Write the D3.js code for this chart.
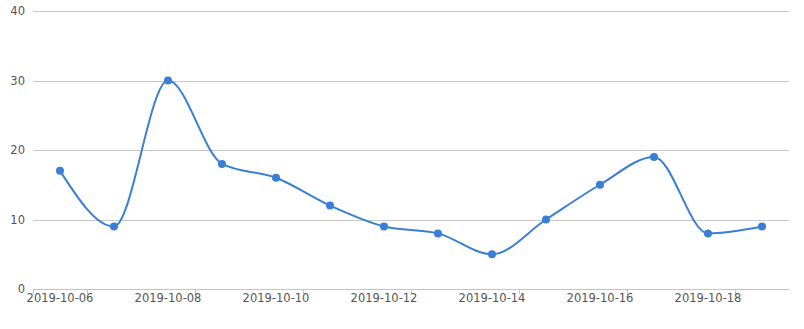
<!DOCTYPE html>
<html>
<head>
<meta charset="utf-8">
<script src="https://cdn.jsdelivr.net/npm/d3@7"></script>
<style>
  body { margin: 0; background: #fff; }
  svg { display: block; }
</style>
</head>
<body>
<div id="chart"></div>
<script>
// chart data
const dates = ["2019-10-06", "2019-10-07", "2019-10-08", "2019-10-09", "2019-10-10", "2019-10-11", "2019-10-12",
               "2019-10-13", "2019-10-14", "2019-10-15", "2019-10-16", "2019-10-17", "2019-10-18", "2019-10-19"]
const values = [17, 9, 30, 18, 16, 12, 9, 8, 5, 10, 15, 19, 8, 9]
const yTicks = [0, 10, 20, 30, 40]

const W = 804, H = 329
const plotLeft = 33, plotRight = 789, plotTop = 11, plotBottom = 289
const lineColor = "#3a7fd5"
const font = "DejaVu Sans, sans-serif"
const labelSize = "11.5px"

const svg = d3.select("#chart").append("svg")
  .attr("width", W).attr("height", H)

const x = d3.scaleBand().domain(dates).range([plotLeft, plotRight])
const y = d3.scaleLinear().domain([0, 40]).range([plotBottom, plotTop])

// horizontal grid + y labels
svg.append("g")
  .selectAll("line")
  .data(yTicks.slice(1))
  .join("line")
  .attr("x1", plotLeft).attr("x2", plotRight)
  .attr("y1", d => Math.round(y(d)) + 0.5).attr("y2", d => Math.round(y(d)) + 0.5)
  .attr("stroke", "#c8c8c8")
  .attr("stroke-width", 1)

svg.append("g")
  .selectAll("text")
  .data(yTicks)
  .join("text")
  .attr("x", 25)
  .attr("y", d => y(d))
  .attr("dy", "0.35em")
  .attr("text-anchor", "end")
  .style("font-family", font)
  .style("font-size", labelSize)
  .style("fill", "#555")
  .text(d => d)

// x axis line and ticks
svg.append("line")
  .attr("x1", plotLeft).attr("x2", plotRight)
  .attr("y1", plotBottom + 0.5).attr("y2", plotBottom + 0.5)
  .attr("stroke", "#b7c7d9")

const tickPos = [plotLeft].concat(dates.filter((d, i) => i % 2 === 0).map(d => x(d) + x.bandwidth()))
svg.append("g")
  .selectAll("line")
  .data(tickPos)
  .join("line")
  .attr("x1", d => Math.round(d) + 0.5).attr("x2", d => Math.round(d) + 0.5)
  .attr("y1", plotBottom).attr("y2", plotBottom + 5)
  .attr("stroke", "#b7c7d9")

svg.append("g")
  .selectAll("text")
  .data(dates.filter((d, i) => i % 2 === 0))
  .join("text")
  .attr("x", d => x(d) + x.bandwidth() / 2)
  .attr("y", plotBottom + 13)
  .attr("text-anchor", "middle")
  .style("font-family", font)
  .style("font-size", labelSize)
  .style("fill", "#555")
  .text(d => d)

// smooth line
const pts = dates.map((d, i) => ({ date: d, value: values[i] }))

svg.append("path")
  .datum(pts)
  .attr("fill", "none")
  .attr("stroke", lineColor)
  .attr("stroke-width", 2)
  .attr("d", d3.line()
    .x(d => x(d.date) + x.bandwidth() / 2)
    .y(d => y(d.value))
    .curve(d3.curveMonotoneX))

svg.append("g")
  .selectAll("circle")
  .data(pts)
  .join("circle")
  .attr("cx", d => x(d.date) + x.bandwidth() / 2)
  .attr("cy", d => y(d.value))
  .attr("r", 4)
  .attr("fill", lineColor)
</script>
</body>
</html>
